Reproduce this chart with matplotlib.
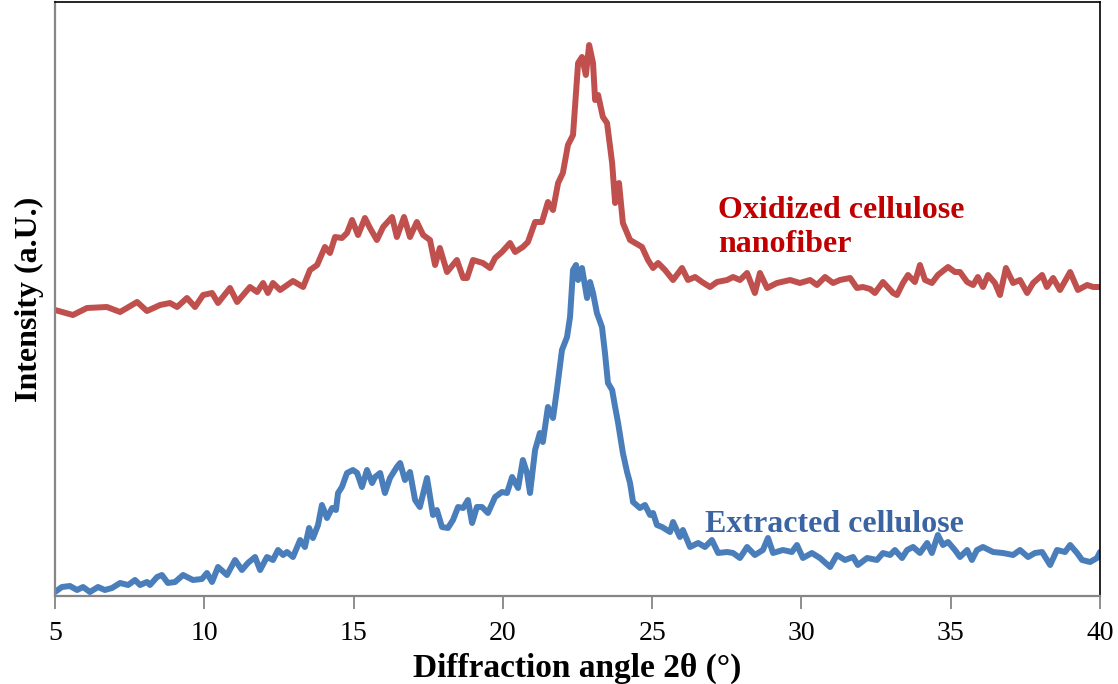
import matplotlib
matplotlib.use("Agg")
import matplotlib.pyplot as plt

# Oxidized cellulose nanofiber (red, upper trace)
red_x = [5.00, 5.60, 6.07, 6.74, 7.18, 7.75, 8.08, 8.52, 8.85, 9.09, 9.42, 9.69, 9.96,
         10.26, 10.46, 10.86, 11.10, 11.53, 11.77, 11.97, 12.13, 12.30, 12.54, 12.97,
         13.31, 13.54, 13.78, 14.04, 14.21, 14.38, 14.61, 14.78, 14.95, 15.15, 15.38,
         15.55, 15.78, 15.99, 16.29, 16.45, 16.69, 16.89, 17.12, 17.33, 17.56, 17.73,
         17.89, 18.13, 18.46, 18.67, 18.80, 19.00, 19.33, 19.57, 19.74, 19.97, 20.24,
         20.41, 20.67, 20.84, 21.08, 21.31, 21.51, 21.68, 21.85, 22.01, 22.18, 22.35,
         22.52, 22.65, 22.78, 22.89, 23.02, 23.09, 23.19, 23.35, 23.49, 23.66, 23.76,
         23.89, 24.02, 24.26, 24.43, 24.66, 24.86, 25.03, 25.20, 25.43, 25.70, 26.00,
         26.20, 26.44, 26.67, 26.94, 27.17, 27.51, 27.71, 27.94, 28.18, 28.44, 28.61,
         28.85, 29.18, 29.62, 29.95, 30.29, 30.52, 30.79, 31.06, 31.29, 31.63, 31.86,
         32.06, 32.30, 32.46, 32.73, 33.07, 33.20, 33.40, 33.57, 33.80, 33.97, 34.14,
         34.37, 34.57, 34.91, 35.14, 35.31, 35.55, 35.75, 35.91, 36.08, 36.25, 36.48,
         36.65, 36.85, 37.09, 37.32, 37.56, 37.76, 38.06, 38.22, 38.43, 38.66, 39.00,
         39.26, 39.57, 39.77, 40.00]
red_y = [286, 281, 288, 289, 284, 294, 285, 291, 293, 289, 298, 289, 301,
         303, 293, 308, 294, 309, 304, 313, 303, 313, 306, 315,
         309, 326, 331, 349, 343, 359, 358, 363, 376, 361, 378,
         368, 356, 369, 379, 359, 379, 359, 374, 361, 356, 331,
         348, 324, 336, 318, 318, 336, 333, 328, 338, 344, 353,
         344, 349, 354, 374, 374, 394, 386, 413, 423, 451, 461,
         533, 539, 521, 551, 533, 496, 501, 479, 473, 433, 393,
         413, 373, 356, 353, 349, 336, 328, 333, 326, 316, 328,
         316, 319, 314, 309, 314, 316, 319, 316, 323, 303, 323,
         308, 313, 316, 313, 316, 311, 319, 313, 316, 318, 308,
         309, 307, 303, 314, 303, 301, 313, 321, 314, 331, 316,
         313, 321, 329, 324, 324, 314, 311, 319, 309, 321, 313,
         301, 328, 313, 316, 303, 313, 321, 309, 318, 306, 324,
         306, 311, 309, 309]

# Extracted cellulose (blue, lower trace)
blue_x = [5.00, 5.23, 5.50, 5.74, 5.94, 6.17, 6.44, 6.67, 6.91, 7.18, 7.45, 7.68, 7.85,
          8.08, 8.18, 8.42, 8.58, 8.78, 9.02, 9.29, 9.62, 9.92, 10.09, 10.26, 10.46,
          10.76, 11.03, 11.26, 11.46, 11.70, 11.87, 12.10, 12.30, 12.47, 12.64, 12.77,
          12.97, 13.21, 13.37, 13.51, 13.64, 13.81, 13.94, 14.11, 14.28, 14.41, 14.48,
          14.61, 14.78, 14.98, 15.12, 15.28, 15.45, 15.62, 15.72, 15.89, 16.05, 16.22,
          16.45, 16.56, 16.72, 16.89, 17.06, 17.22, 17.36, 17.46, 17.66, 17.79, 17.96,
          18.16, 18.33, 18.50, 18.67, 18.83, 18.97, 19.13, 19.30, 19.50, 19.74, 19.97,
          20.14, 20.31, 20.51, 20.67, 20.81, 20.91, 21.08, 21.24, 21.34, 21.51, 21.68,
          21.81, 21.98, 22.15, 22.25, 22.35, 22.45, 22.52, 22.65, 22.82, 22.92, 23.02,
          23.15, 23.32, 23.42, 23.52, 23.66, 23.76, 23.86, 24.02, 24.16, 24.26, 24.36,
          24.59, 24.76, 24.93, 25.03, 25.16, 25.33, 25.60, 25.70, 25.93, 26.03, 26.27,
          26.54, 26.77, 27.00, 27.21, 27.51, 27.71, 27.94, 28.18, 28.44, 28.71, 28.88,
          29.05, 29.38, 29.68, 29.85, 30.05, 30.35, 30.62, 30.96, 31.19, 31.46, 31.73,
          31.89, 32.20, 32.53, 32.73, 32.97, 33.13, 33.37, 33.54, 33.74, 33.97, 34.21,
          34.37, 34.57, 34.74, 34.91, 35.14, 35.31, 35.55, 35.71, 35.88, 36.08, 36.42,
          36.75, 37.09, 37.32, 37.59, 37.82, 38.06, 38.33, 38.56, 38.83, 39.00, 39.23,
          39.40, 39.67, 39.90, 40.00]
blue_y = [4, 9, 10, 6, 9, 4, 9, 6, 8, 13, 11, 16, 11,
          14, 11, 19, 21, 13, 14, 21, 16, 17, 23, 14, 29,
          21, 36, 26, 33, 39, 26, 39, 36, 46, 41, 44,
          39, 56, 49, 68, 58, 71, 91, 78, 88, 86, 103,
          109, 123, 126, 123, 109, 126, 113, 119, 123, 103, 118,
          129, 133, 116, 124, 96, 89, 106, 118, 81, 86, 69,
          68, 76, 89, 88, 96, 73, 89, 89, 83, 99, 104,
          103, 119, 108, 136, 123, 103, 146, 163, 154, 189, 178,
          206, 246, 259, 279, 326, 331, 316, 328, 298, 314, 303,
          283, 269, 243, 213, 206, 189, 173, 143, 124, 113, 94,
          88, 91, 81, 83, 71, 69, 64, 74, 59, 66, 49,
          53, 49, 56, 43, 44, 43, 38, 49, 41, 46, 58,
          43, 46, 44, 51, 38, 43, 38, 29, 41, 36, 39,
          31, 38, 36, 43, 41, 46, 38, 46, 49, 43, 53,
          43, 61, 51, 54, 46, 39, 46, 36, 46, 49, 44,
          43, 41, 46, 39, 43, 44, 31, 46, 44, 51, 43,
          36, 34, 38, 44]

x_ticks = [5, 10, 15, 20, 25, 30, 35, 40]
red_label = ["Oxidized cellulose", "nanofiber"]
blue_label = "Extracted cellulose"

plt.rcParams["font.family"] = ["Liberation Serif", "DejaVu Serif"]

fig = plt.figure(figsize=(11.18, 6.84), dpi=100)
ax = fig.add_axes([55 / 1118, 1 - 596 / 684, (1100 - 55) / 1118, (596 - 2) / 684])

ax.plot(red_x, red_y, color="#C0504D", lw=4.3, solid_joinstyle="round", solid_capstyle="round")
ax.plot(blue_x, blue_y, color="#4A7EBB", lw=4.3, solid_joinstyle="round", solid_capstyle="round")

ax.set_xlim(5, 40)
ax.set_ylim(0, 594)
ax.set_xticks(x_ticks)
ax.set_xticklabels([str(t) for t in x_ticks], fontsize=20)
ax.set_yticks([])

ax.tick_params(axis="x", direction="out", length=9, width=1.3, color="#868686", pad=9)
for side in ("left", "bottom"):
    ax.spines[side].set_color("#868686")
    ax.spines[side].set_linewidth(1.6)
for side in ("top", "right"):
    ax.spines[side].set_color("black")
    ax.spines[side].set_linewidth(1.2)

ax.set_xlabel("Diffraction angle 2θ (°)", fontsize=24, fontweight="bold", labelpad=5)
ax.set_ylabel("Intensity (a.U.)", fontsize=23, fontweight="bold", labelpad=8)

ax.text(27.21, 386, red_label[0], color="#C00000", fontsize=23, fontweight="bold",
        ha="left", va="center")
ax.text(27.21, 351, red_label[1], color="#C00000", fontsize=23, fontweight="bold",
        ha="left", va="center")
ax.text(26.77, 72, blue_label, color="#3B64A3", fontsize=23, fontweight="bold",
        ha="left", va="center")

fig.savefig("out.png", dpi=100)
